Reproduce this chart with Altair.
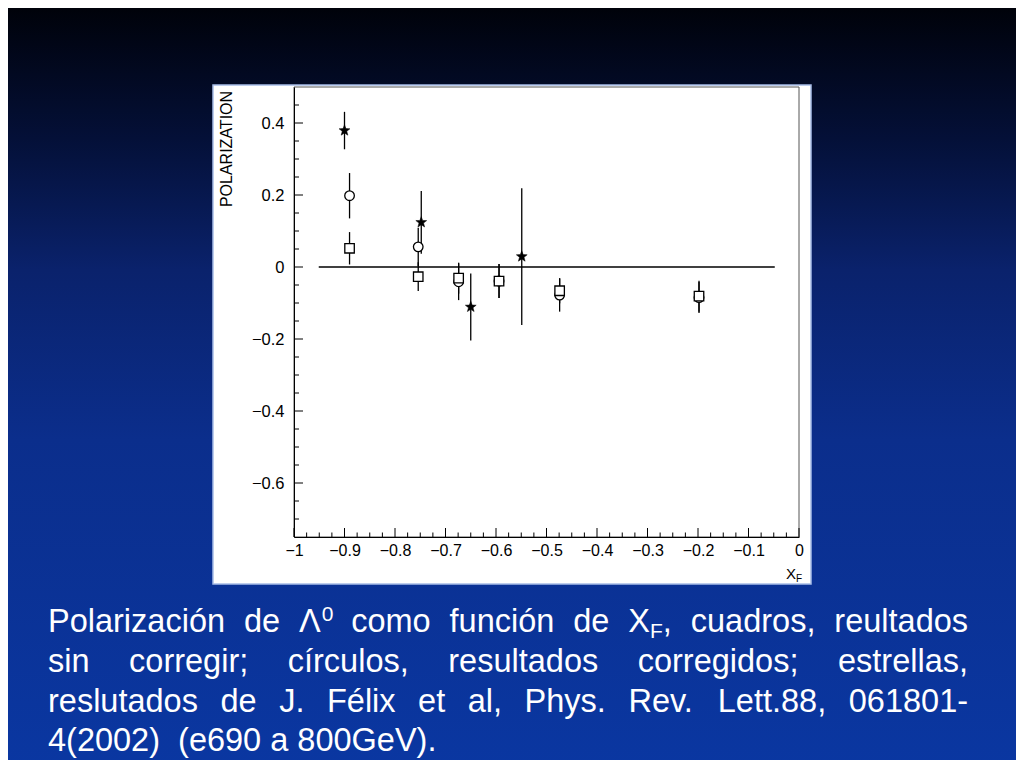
import math
import altair as alt
import pandas as pd

# ---------------- data ----------------
xf_points = [-0.890, -0.754, -0.674, -0.594, -0.474, -0.198]
pol_uncorrected = [0.052, -0.027, -0.031, -0.039, -0.066, -0.081]
err_uncorrected = [0.045, 0.040, 0.043, 0.047, 0.035, 0.043]
pol_corrected = [0.198, 0.056, -0.041, -0.039, -0.078, -0.085]
err_corrected = [0.063, 0.053, 0.051, 0.047, 0.046, 0.043]
xf_felix = [-0.900, -0.748, -0.650, -0.549]
pol_felix = [0.379, 0.124, -0.111, 0.029]
err_felix = [0.052, 0.087, 0.093, 0.190]
zero_line_x = [-0.951, -0.048]
zero_line_y = [0.0]

x_label_values = [-1.0, -0.9, -0.8, -0.7, -0.6, -0.5, -0.4, -0.3, -0.2, -0.1, 0.0]
y_label_values = [-0.6, -0.4, -0.2, 0.0, 0.2, 0.4]
x_minor_values = [round(-1 + 0.025 * i, 3) for i in range(1, 40) if i % 4]
y_minor_values = [round(-0.75 + 0.05 * i, 3) for i in range(1, 25) if i % 4 != 3]

y_title = "POLARIZATION"
caption_lines = [
    ["Polarización", "de", [("Λ", "n"), ("0", "sup")], "como", "función", "de",
     [("X", "n"), ("F", "sub"), (",", "n")], "cuadros,", "reultados"],
    ["sin", "corregir;", "círculos,", "resultados", "corregidos;", "estrellas,"],
    ["reslutados", "de", "J.", "Félix", "et", "al,", "Phys.", "Rev.", "Lett.88,", "061801-"],
    ["4(2002)", "(e690 a 800GeV)."],
]

# ---------------- layout ----------------
W, H = 505, 450
OX, OY = 294, 87          # page position of the plot origin
PAD_L, PAD_T = OX - 8, OY - 8
PAD_R = 1008 - PAD_L - W
PAD_B = 752 - PAD_T - H

FONT = "Liberation Sans"
one = pd.DataFrame({"a": [0]})

xs = alt.Scale(domain=[-1, 0], nice=False, zero=False)
ys = alt.Scale(domain=[-0.75, 0.5], nice=False, zero=False)
x_axis = alt.Axis(
    values=x_label_values, format="~g", ticks=False, grid=False, title=None,
    labelFont=FONT, labelFontSize=16, labelColor="black", labelPadding=5,
    labelFlush=False, domainColor="black", domainWidth=1, zindex=1)
y_axis = alt.Axis(
    values=y_label_values, format="~g", ticks=False, grid=False, title=None,
    labelFont=FONT, labelFontSize=16.5, labelColor="black", labelPadding=10,
    labelFlush=False, domainColor="black", domainWidth=1, zindex=1)
X = alt.X("xf:Q", scale=xs, axis=x_axis)
Y = alt.Y("pol:Q", scale=ys, axis=y_axis)

def page_text(s, px, py, size, color="white", **kw):
    return alt.Chart(one).mark_text(
        font=FONT, fontSize=size, color=color, align=kw.pop("align", "left"),
        baseline=kw.pop("baseline", "alphabetic"), **kw
    ).encode(x=alt.value(px - OX), y=alt.value(py - OY), text=alt.value(s))

# ---------------- background ----------------
bg = alt.Chart(one).mark_rect(fill=alt.Gradient(
    gradient="linear", x1=0, x2=0, y1=0, y2=1,
    stops=[alt.GradientStop(color="#00020a", offset=0),
           alt.GradientStop(color="#041038", offset=0.17),
           alt.GradientStop(color="#0a226c", offset=0.34),
           alt.GradientStop(color="#0b2e8c", offset=0.56),
           alt.GradientStop(color="#0a37a2", offset=1)])
).encode(x=alt.value(-PAD_L), x2=alt.value(W + PAD_R + 20),
         y=alt.value(-PAD_T), y2=alt.value(H + PAD_B + 20))

panel = alt.Chart(one).mark_rect(fill="white", stroke="#a8bde8", strokeWidth=1.5).encode(
    x=alt.value(213 - OX), x2=alt.value(811 - OX), y=alt.value(85 - OY), y2=alt.value(584 - OY))

frame = alt.Chart(one).mark_rect(filled=False, stroke="#555555", strokeWidth=1).encode(
    x=alt.value(0), x2=alt.value(W), y=alt.value(0), y2=alt.value(H))

# ---------------- data layers ----------------
zero_df = pd.DataFrame({"xf": [zero_line_x[0]], "xf2": [zero_line_x[1]], "pol": zero_line_y})
zero = alt.Chart(zero_df).mark_rule(color="black", strokeWidth=1.3).encode(x=X, x2="xf2:Q", y=Y)

def series(xv, yv, ev):
    return pd.DataFrame({"xf": xv, "pol": yv,
                         "lo": [a - b for a, b in zip(yv, ev)],
                         "hi": [a + b for a, b in zip(yv, ev)]})

sq = series(xf_points, pol_uncorrected, err_uncorrected)
ci = series(xf_points, pol_corrected, err_corrected)
st = series(xf_felix, pol_felix, err_felix)

def bars(df):
    return alt.Chart(df).mark_rule(color="black", strokeWidth=1.3).encode(
        x=X, y=alt.Y("lo:Q", scale=ys, axis=y_axis), y2="hi:Q")

pts = []
for k in range(10):
    r = 1.0 if k % 2 == 0 else 0.42
    a = -math.pi / 2 + k * math.pi / 5
    pts.append(f"{r * math.cos(a):.3f},{r * math.sin(a):.3f}")
star_path = "M" + "L".join(pts) + "Z"

circles = alt.Chart(ci).mark_point(shape="circle", size=92, filled=True, fill="white",
                                   stroke="black", strokeWidth=1.3, opacity=1).encode(x=X, y=Y)
squares = alt.Chart(sq).mark_point(shape="square", size=90, filled=True, fill="white",
                                   stroke="black", strokeWidth=1.3, opacity=1).encode(x=X, y=Y)
stars = alt.Chart(st).mark_point(shape=star_path, size=130, filled=True, fill="black",
                                 stroke="black", strokeWidth=0.5, opacity=1).encode(x=X, y=Y)

# ---------------- inward ticks ----------------
xmaj = alt.Chart(pd.DataFrame({"xf": x_label_values})).mark_rule(color="black").encode(
    x=X, y=alt.value(H), y2=alt.value(H - 9))
xmin = alt.Chart(pd.DataFrame({"xf": x_minor_values})).mark_rule(color="black").encode(
    x=X, y=alt.value(H), y2=alt.value(H - 4.5))
ymaj = alt.Chart(pd.DataFrame({"pol": y_label_values})).mark_rule(color="black").encode(
    y=Y, x=alt.value(0), x2=alt.value(9))
ymin = alt.Chart(pd.DataFrame({"pol": y_minor_values})).mark_rule(color="black").encode(
    y=Y, x=alt.value(0), x2=alt.value(5))

# ---------------- texts ----------------
texts = [
    page_text(y_title, 227, 149, 16, color="black", angle=270, align="center", baseline="middle"),
    page_text("X", 786, 579, 15, color="black"),
    page_text("F", 796, 582, 10, color="black"),
]

# Arial / Liberation Sans advance widths (per 1000 em)
AW = dict(zip("abcdefghijklmnopqrstuvwxyz",
              [556, 556, 500, 556, 556, 278, 556, 556, 222, 222, 500, 222, 833,
               556, 556, 556, 556, 333, 500, 278, 556, 500, 722, 500, 500, 500]))
AW.update(dict(zip("ABCDEFGHIJKLMNOPQRSTUVWXYZ",
                   [667, 667, 722, 722, 667, 611, 778, 722, 278, 500, 667, 556, 833,
                    722, 778, 667, 778, 722, 667, 611, 722, 667, 944, 667, 667, 611])))
AW.update({c: 556 for c in "0123456789"})
AW.update({" ": 278, ",": 278, ".": 278, ";": 278, "-": 333, "(": 333, ")": 333,
           "í": 278, "ó": 556, "é": 556, "Λ": 667})

FS, FS_SMALL = 32.5, 21
def seg_w(s, size):
    return sum(AW.get(c, 556) for c in s) * size / 1000.0

def word_segments(w):
    return [(w, "n")] if isinstance(w, str) else w

def word_width(w):
    return sum(seg_w(s, FS if k == "n" else FS_SMALL) for s, k in word_segments(w))

LEFT, RIGHT = 48, 968
baselines = [632, 672, 712, 751]
for li, (line, base) in enumerate(zip(caption_lines, baselines)):
    widths = [word_width(w) for w in line]
    if li < len(caption_lines) - 1:
        gap = (RIGHT - LEFT - sum(widths)) / (len(line) - 1)
    else:
        gap = 2 * seg_w(" ", FS)
    x = LEFT
    for w, wd in zip(line, widths):
        cx = x
        for s, kind in word_segments(w):
            if kind == "n":
                texts.append(page_text(s, cx, base, FS))
                cx += seg_w(s, FS)
            elif kind == "sup":
                texts.append(page_text(s, cx + 1, base - 11, FS_SMALL))
                cx += seg_w(s, FS_SMALL) + 1
            else:
                texts.append(page_text(s, cx, base + 6, FS_SMALL))
                cx += seg_w(s, FS_SMALL)
        x += wd + gap

chart = alt.layer(
    bg, panel, frame, zero, bars(ci), bars(sq), bars(st), circles, squares, stars,
    xmaj, xmin, ymaj, ymin, *texts
).properties(
    width=W, height=H,
    padding={"left": PAD_L, "top": PAD_T, "right": PAD_R, "bottom": PAD_B},
    autosize=alt.AutoSizeParams(type="none"),
).configure_view(stroke=None).configure(background="#0a2a80")

chart.save("out.html", embed_options={"renderer": "svg", "actions": False})
